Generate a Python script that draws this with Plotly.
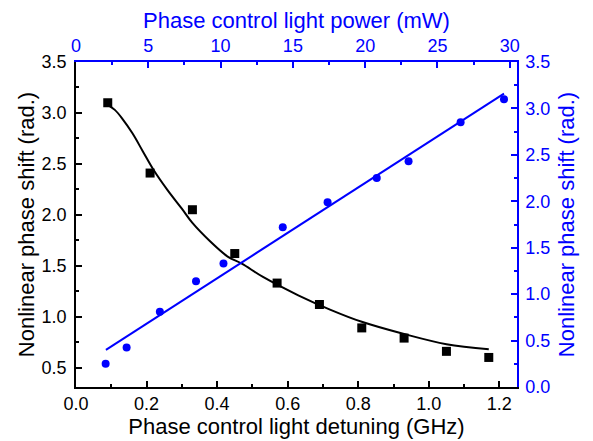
import plotly.graph_objects as go

# Black data: phase shift vs detuning (bottom / left axes)
detuning_ghz = [0.09, 0.21, 0.33, 0.45, 0.57, 0.69, 0.81, 0.93, 1.05, 1.17]
phase_vs_detuning = [3.10, 2.41, 2.05, 1.62, 1.33, 1.12, 0.89, 0.79, 0.66, 0.60]

# Black fitted curve
fit_detuning = [0.09, 0.11, 0.13, 0.16, 0.19, 0.22, 0.26, 0.30, 0.33, 0.38, 0.43,
                0.47, 0.53, 0.63, 0.72, 0.81, 0.93, 1.05, 1.17]
fit_phase_detuning = [3.08, 3.03, 2.95, 2.80, 2.62, 2.44, 2.24, 2.06, 1.92, 1.74, 1.59,
                      1.52, 1.39, 1.21, 1.07, 0.95, 0.83, 0.73, 0.68]

# Blue data: phase shift vs power (top / right axes)
power_mw = [2.05, 3.5, 5.8, 8.3, 10.2, 14.3, 17.4, 20.8, 23.0, 26.6, 29.6]
phase_vs_power = [0.25, 0.425, 0.81, 1.14, 1.33, 1.72, 1.99, 2.25, 2.43, 2.85, 3.10]

# Blue fitted line endpoints
fit_power = [2.07, 29.6]
fit_phase_power = [0.40, 3.16]

FONT = "Liberation Sans, Arial, Helvetica, sans-serif"
BLUE = "#0000ff"
BLACK = "#000000"

fig = go.Figure()
fig.add_trace(go.Scatter(x=fit_power, y=fit_phase_power, mode="lines",
                         line=dict(color=BLUE, width=2), xaxis="x2", yaxis="y2",
                         showlegend=False, hoverinfo="skip"))
fig.add_trace(go.Scatter(x=power_mw, y=phase_vs_power, mode="markers",
                         marker=dict(color=BLUE, size=8, symbol="circle"),
                         xaxis="x2", yaxis="y2", showlegend=False))
fig.add_trace(go.Scatter(x=fit_detuning, y=fit_phase_detuning, mode="lines",
                         line=dict(color=BLACK, width=2, shape="spline", smoothing=1.0),
                         showlegend=False, hoverinfo="skip"))
fig.add_trace(go.Scatter(x=detuning_ghz, y=phase_vs_detuning, mode="markers",
                         marker=dict(color=BLACK, size=9, symbol="square"),
                         showlegend=False))

tickfont_black = dict(family=FONT, size=18, color=BLACK)
tickfont_blue = dict(family=FONT, size=18, color=BLUE)
titlefont_black = dict(family=FONT, size=22, color=BLACK)
titlefont_blue = dict(family=FONT, size=22, color=BLUE)

common = dict(showgrid=False, zeroline=False, showline=True, linewidth=1.5,
              ticks="inside", ticklen=6, tickwidth=1.5, automargin=False)

# page body has an 8px margin, so the figure is 8px smaller and margins offset
fig.update_layout(
    width=585, height=433,
    margin=dict(l=68, r=76, t=54, b=54, autoexpand=False),
    paper_bgcolor="white", plot_bgcolor="white",
    font=dict(family=FONT),
    xaxis=dict(
        range=[0, 1.25], dtick=0.2, tick0=0, tickformat=".1f",
        linecolor=BLACK, tickcolor=BLACK, **common,
        minor=dict(ticks="inside", ticklen=3, tickwidth=1.5, dtick=0.1, tickcolor=BLACK, showgrid=False),
        tickfont=tickfont_black, ticklabelstandoff=0,
        title=dict(text="Phase control light detuning (GHz)", font=titlefont_black, standoff=0),
    ),
    xaxis2=dict(
        range=[0, 30.5], dtick=5, tick0=0, overlaying="x", side="top", anchor="y",
        linecolor=BLUE, tickcolor=BLUE, **common,
        minor=dict(ticks="inside", ticklen=3, tickwidth=1.5, dtick=2.5, tickcolor=BLUE, showgrid=False),
        tickfont=tickfont_blue, ticklabelstandoff=1,
        title=dict(text="Phase control light power (mW)", font=titlefont_blue, standoff=3),
    ),
    yaxis=dict(
        range=[0.31, 3.5], dtick=0.5, tick0=0, tickformat=".1f",
        linecolor=BLACK, tickcolor=BLACK, **common,
        minor=dict(ticks="inside", ticklen=3, tickwidth=1.5, dtick=0.25, tickcolor=BLACK, showgrid=False),
        tickfont=tickfont_black, ticklabelstandoff=4,
        title=dict(text="Nonlinear phase shift (rad.)", font=titlefont_black, standoff=1),
    ),
    yaxis2=dict(
        range=[0, 3.5], dtick=0.5, tick0=0, tickformat=".1f",
        overlaying="y", side="right", anchor="x",
        linecolor=BLUE, tickcolor=BLUE, **common,
        minor=dict(ticks="inside", ticklen=3, tickwidth=1.5, dtick=0.25, tickcolor=BLUE, showgrid=False),
        tickfont=tickfont_blue, ticklabelstandoff=3,
        title=dict(text="Nonlinear phase shift (rad.)", font=titlefont_blue, standoff=9),
    ),
)

fig.write_html("out.html")
